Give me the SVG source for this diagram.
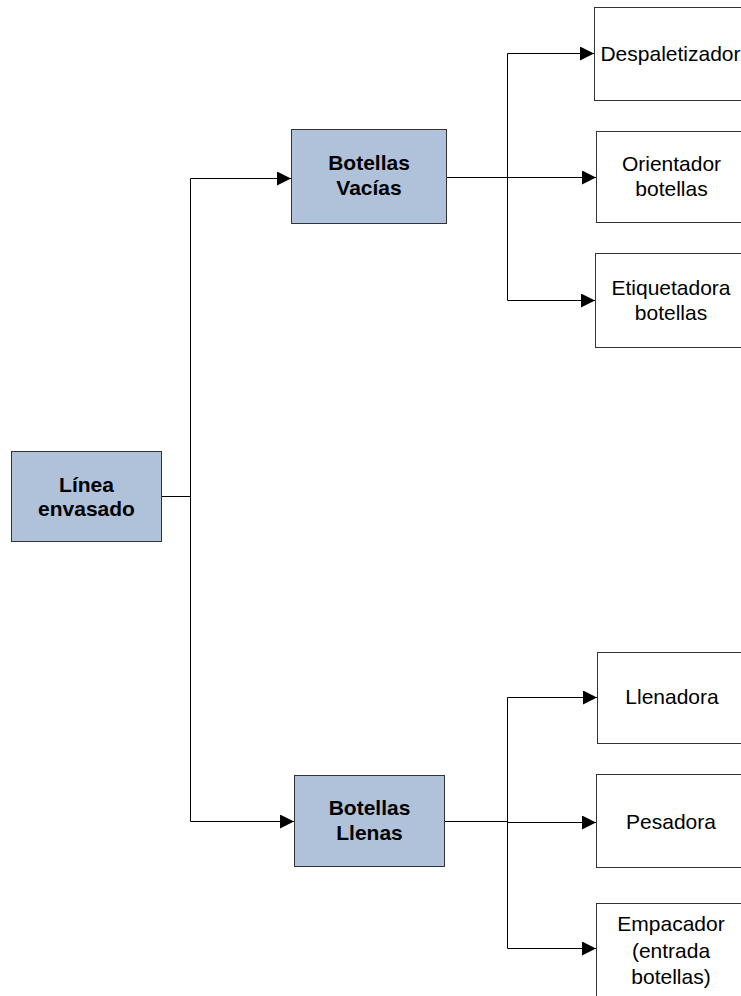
<svg xmlns="http://www.w3.org/2000/svg" width="741" height="996" viewBox="0 0 741 996">
  <style>
    .hub rect { fill: #B0C2DA; stroke: #333; stroke-width: 1; }
    .leaf rect { fill: #fff; stroke: #333; stroke-width: 1; }
    .hub text { font-family: "Liberation Sans", Arial, sans-serif; font-size: 21px; font-weight: bold; fill: #000; text-anchor: middle; }
    .leaf text { font-family: "Liberation Sans", Arial, sans-serif; font-size: 21px; fill: #000; text-anchor: middle; }
    .wire { fill: none; stroke: #000; stroke-width: 1; }
  </style>
  <defs>
    <marker id="arrow" viewBox="0 0 14 14" refX="14" refY="7" markerWidth="14" markerHeight="14" markerUnits="userSpaceOnUse" orient="auto">
      <path d="M0,0 L14,7 L0,14 Z" fill="#000"/>
    </marker>
  </defs>
  <rect width="741" height="996" fill="#fff"/>

  <g id="connectors">
    <!-- root to the two groups -->
    <path class="wire" d="M162,496.5 H190.5"/>
    <path class="wire" d="M190.5,178.5 V821.5"/>
    <path class="wire" d="M190.5,178.5 H291" marker-end="url(#arrow)"/>
    <path class="wire" d="M190.5,821.5 H294" marker-end="url(#arrow)"/>
    <!-- empty bottles branch -->
    <path class="wire" d="M447,177.5 H507.5"/>
    <path class="wire" d="M507.5,53.5 V300.5"/>
    <path class="wire" d="M507.5,53.5 H594" marker-end="url(#arrow)"/>
    <path class="wire" d="M507.5,177.5 H596" marker-end="url(#arrow)"/>
    <path class="wire" d="M507.5,300.5 H595" marker-end="url(#arrow)"/>
    <!-- full bottles branch -->
    <path class="wire" d="M445,821.5 H507.5"/>
    <path class="wire" d="M507.5,697.5 V948.5"/>
    <path class="wire" d="M507.5,697.5 H597" marker-end="url(#arrow)"/>
    <path class="wire" d="M507.5,822.5 H596" marker-end="url(#arrow)"/>
    <path class="wire" d="M507.5,948.5 H596" marker-end="url(#arrow)"/>
  </g>

  <g id="linea-envasado" class="hub">
    <rect x="11.5" y="451.5" width="150" height="90"/>
    <text x="86.5" y="492">Línea</text>
    <text x="86.5" y="516">envasado</text>
  </g>

  <g id="botellas-vacias" class="hub">
    <rect x="291.5" y="129.5" width="155" height="94"/>
    <text x="369" y="170">Botellas</text>
    <text x="369" y="195">Vacías</text>
  </g>

  <g id="botellas-llenas" class="hub">
    <rect x="294.5" y="775.5" width="150" height="91"/>
    <text x="369.5" y="815">Botellas</text>
    <text x="369.5" y="840">Llenas</text>
  </g>

  <g id="despaletizador" class="leaf">
    <rect x="594.5" y="7.5" width="152" height="93"/>
    <text x="670.5" y="61">Despaletizador</text>
  </g>

  <g id="orientador" class="leaf">
    <rect x="596.5" y="131.5" width="150" height="91"/>
    <text x="671.5" y="171">Orientador</text>
    <text x="671.5" y="196">botellas</text>
  </g>

  <g id="etiquetadora" class="leaf">
    <rect x="595.5" y="253.5" width="151" height="94"/>
    <text x="671" y="295">Etiquetadora</text>
    <text x="671" y="320">botellas</text>
  </g>

  <g id="llenadora" class="leaf">
    <rect x="597.5" y="652.5" width="149" height="91"/>
    <text x="672" y="704">Llenadora</text>
  </g>

  <g id="pesadora" class="leaf">
    <rect x="596.5" y="774.5" width="150" height="93"/>
    <text x="671" y="829">Pesadora</text>
  </g>

  <g id="empacador" class="leaf">
    <rect x="596.5" y="903.5" width="150" height="110"/>
    <text x="671" y="931">Empacador</text>
    <text x="671" y="958">(entrada</text>
    <text x="671" y="984">botellas)</text>
  </g>
</svg>
